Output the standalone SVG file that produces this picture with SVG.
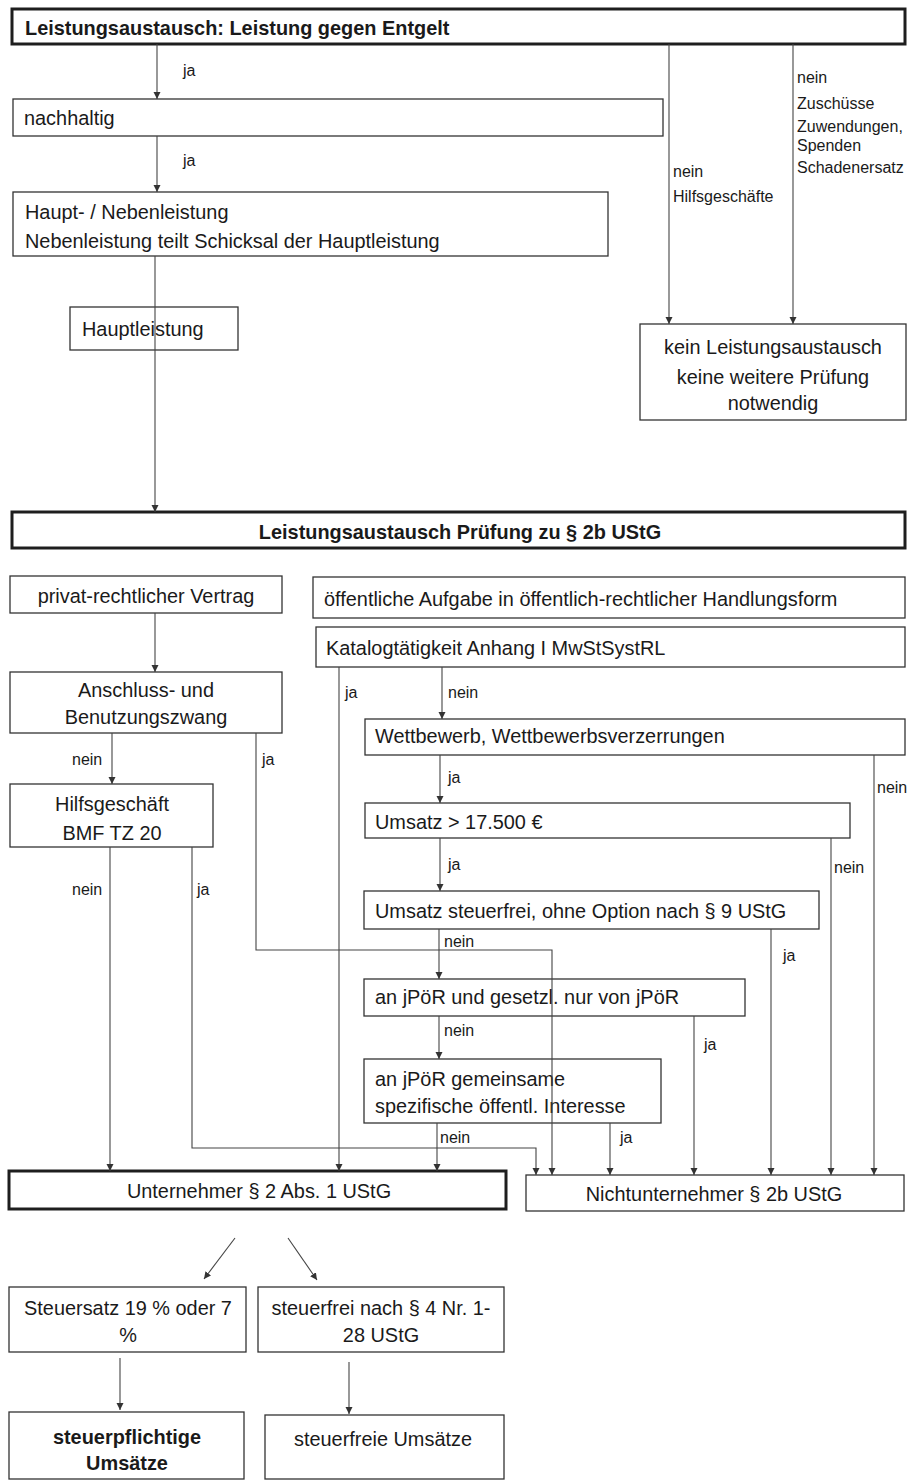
<svg xmlns="http://www.w3.org/2000/svg" width="908" height="1481" viewBox="0 0 908 1481">
<style>
.box{fill:#fff;stroke:#333;stroke-width:1.3}
.thick{stroke:#1e1e1e;stroke-width:3}
text{font-family:"Liberation Sans",Arial,sans-serif;font-size:19.9px;fill:#1a1a1a}
.b{font-weight:bold}
.l{font-size:16px}
.c{text-anchor:middle}
.ln{fill:none;stroke:#444;stroke-width:1.1}
</style>
<defs>
<marker id="ah" viewBox="0 0 10 10" refX="10" refY="5" markerWidth="7" markerHeight="8" markerUnits="userSpaceOnUse" orient="auto"><path d="M0,0 L10,5 L0,10 z" fill="#333"/></marker>
</defs>
<rect width="908" height="1481" fill="#fff"/>

<g id="n-top"><rect class="box thick" x="12" y="9" width="893" height="35"/><text class="b" x="25" y="35">Leistungsaustausch: Leistung gegen Entgelt</text></g>
<g id="n-nachhaltig"><rect class="box" x="13" y="99" width="650" height="37"/><text x="24" y="125">nachhaltig</text></g>
<g id="n-haupt"><rect class="box" x="13" y="192" width="595" height="64"/><text x="25" y="219">Haupt- / Nebenleistung</text><text x="25" y="248">Nebenleistung teilt Schicksal der Hauptleistung</text></g>
<g id="n-hauptleistung"><rect class="box" x="70" y="307" width="168" height="43"/><text x="82" y="336">Hauptleistung</text></g>
<g id="n-kein"><rect class="box" x="640" y="324" width="266" height="96"/><text class="c" x="773" y="354">kein Leistungsaustausch</text><text class="c" x="773" y="384">keine weitere Prüfung</text><text class="c" x="773" y="410">notwendig</text></g>
<g id="n-pruefung"><rect class="box thick" x="12" y="512" width="893" height="36"/><text class="b c" x="460" y="539">Leistungsaustausch Prüfung zu § 2b UStG</text></g>
<g id="n-privat"><rect class="box" x="10" y="576" width="272" height="37"/><text class="c" x="146" y="603">privat-rechtlicher Vertrag</text></g>
<g id="n-oeffentlich"><rect class="box" x="313" y="577" width="592" height="41"/><text x="324" y="606">öffentliche Aufgabe in öffentlich-rechtlicher Handlungsform</text></g>
<g id="n-katalog"><rect class="box" x="316" y="627" width="589" height="40"/><text x="326" y="655">Katalogtätigkeit Anhang I MwStSystRL</text></g>
<g id="n-anschluss"><rect class="box" x="10" y="672" width="272" height="61"/><text class="c" x="146" y="697">Anschluss- und</text><text class="c" x="146" y="724">Benutzungszwang</text></g>
<g id="n-wettbewerb"><rect class="box" x="365" y="719" width="540" height="36"/><text x="375" y="743">Wettbewerb, Wettbewerbsverzerrungen</text></g>
<g id="n-hilfsgeschaeft"><rect class="box" x="10" y="784" width="203" height="63"/><text class="c" x="112" y="811">Hilfsgeschäft</text><text class="c" x="112" y="840">BMF TZ 20</text></g>
<g id="n-umsatz"><rect class="box" x="365" y="803" width="485" height="35"/><text x="375" y="829">Umsatz &gt; 17.500 €</text></g>
<g id="n-steuerfrei9"><rect class="box" x="364" y="891" width="455" height="38"/><text x="375" y="918">Umsatz steuerfrei, ohne Option nach § 9 UStG</text></g>
<g id="n-jpoer1"><rect class="box" x="364" y="979" width="381" height="37"/><text x="375" y="1004">an jPöR und gesetzl. nur von jPöR</text></g>
<g id="n-jpoer2"><rect class="box" x="364" y="1059" width="297" height="64"/><text x="375" y="1086">an jPöR gemeinsame</text><text x="375" y="1113">spezifische öffentl. Interesse</text></g>
<g id="n-unternehmer"><rect class="box thick" x="9" y="1171" width="497" height="38"/><text class="c" x="259" y="1198">Unternehmer § 2 Abs. 1 UStG</text></g>
<g id="n-nichtunternehmer"><rect class="box" x="526" y="1175" width="378" height="36"/><text class="c" x="714" y="1201">Nichtunternehmer § 2b UStG</text></g>
<g id="n-steuersatz"><rect class="box" x="9" y="1287" width="237" height="65"/><text class="c" x="128" y="1315">Steuersatz 19 % oder 7</text><text class="c" x="128" y="1342">%</text></g>
<g id="n-steuerfrei4"><rect class="box" x="258" y="1287" width="246" height="65"/><text class="c" x="381" y="1315">steuerfrei nach § 4 Nr. 1-</text><text class="c" x="381" y="1342">28 UStG</text></g>
<g id="n-stpfl"><rect class="box" x="9" y="1412" width="235" height="67"/><text class="b c" x="127" y="1444">steuerpflichtige</text><text class="b c" x="127" y="1470">Umsätze</text></g>
<g id="n-stfrei"><rect class="box" x="265" y="1415" width="239" height="64"/><text class="c" x="383" y="1446">steuerfreie Umsätze</text></g>

<g id="connectors">
<path class="ln" marker-end="url(#ah)" d="M157,44 V99"/>
<path class="ln" marker-end="url(#ah)" d="M157,136 V192"/>
<path class="ln" marker-end="url(#ah)" d="M155,256 V512"/>
<path class="ln" marker-end="url(#ah)" d="M669,44 V324"/>
<path class="ln" marker-end="url(#ah)" d="M793,44 V324"/>
<path class="ln" marker-end="url(#ah)" d="M155,613 V672"/>
<path class="ln" marker-end="url(#ah)" d="M339,667 V1171"/>
<path class="ln" marker-end="url(#ah)" d="M442,667 V719"/>
<path class="ln" marker-end="url(#ah)" d="M112,733 V784"/>
<path class="ln" marker-end="url(#ah)" d="M256,733 V950 H552 V1175"/>
<path class="ln" marker-end="url(#ah)" d="M440,755 V803"/>
<path class="ln" marker-end="url(#ah)" d="M874,755 V1175"/>
<path class="ln" marker-end="url(#ah)" d="M831,838 V1175"/>
<path class="ln" marker-end="url(#ah)" d="M440,838 V891"/>
<path class="ln" marker-end="url(#ah)" d="M110,847 V1171"/>
<path class="ln" marker-end="url(#ah)" d="M192,847 V1148 H536 V1175"/>
<path class="ln" marker-end="url(#ah)" d="M439,929 V979"/>
<path class="ln" marker-end="url(#ah)" d="M771,929 V1175"/>
<path class="ln" marker-end="url(#ah)" d="M439,1016 V1059"/>
<path class="ln" marker-end="url(#ah)" d="M694,1016 V1175"/>
<path class="ln" marker-end="url(#ah)" d="M437,1123 V1171"/>
<path class="ln" marker-end="url(#ah)" d="M610,1123 V1175"/>
<path class="ln" marker-end="url(#ah)" d="M235,1238 L204,1279"/>
<path class="ln" marker-end="url(#ah)" d="M288,1238 L317,1280"/>
<path class="ln" marker-end="url(#ah)" d="M120,1358 V1410"/>
<path class="ln" marker-end="url(#ah)" d="M349,1362 V1414"/>
<text class="l" x="183" y="76">ja</text>
<text class="l" x="183" y="166">ja</text>
<text class="l" x="673" y="177">nein</text>
<text class="l" x="673" y="202">Hilfsgeschäfte</text>
<text class="l" x="797" y="83">nein</text>
<text class="l" x="797" y="109">Zuschüsse</text>
<text class="l" x="797" y="132">Zuwendungen,</text>
<text class="l" x="797" y="151">Spenden</text>
<text class="l" x="797" y="173">Schadenersatz</text>
<text class="l" x="345" y="698">ja</text>
<text class="l" x="448" y="698">nein</text>
<text class="l" x="72" y="765">nein</text>
<text class="l" x="262" y="765">ja</text>
<text class="l" x="448" y="783">ja</text>
<text class="l" x="877" y="793">nein</text>
<text class="l" x="448" y="870">ja</text>
<text class="l" x="834" y="873">nein</text>
<text class="l" x="72" y="895">nein</text>
<text class="l" x="197" y="895">ja</text>
<text class="l" x="444" y="947">nein</text>
<text class="l" x="783" y="961">ja</text>
<text class="l" x="444" y="1036">nein</text>
<text class="l" x="704" y="1050">ja</text>
<text class="l" x="440" y="1143">nein</text>
<text class="l" x="620" y="1143">ja</text>
</g>
</svg>
